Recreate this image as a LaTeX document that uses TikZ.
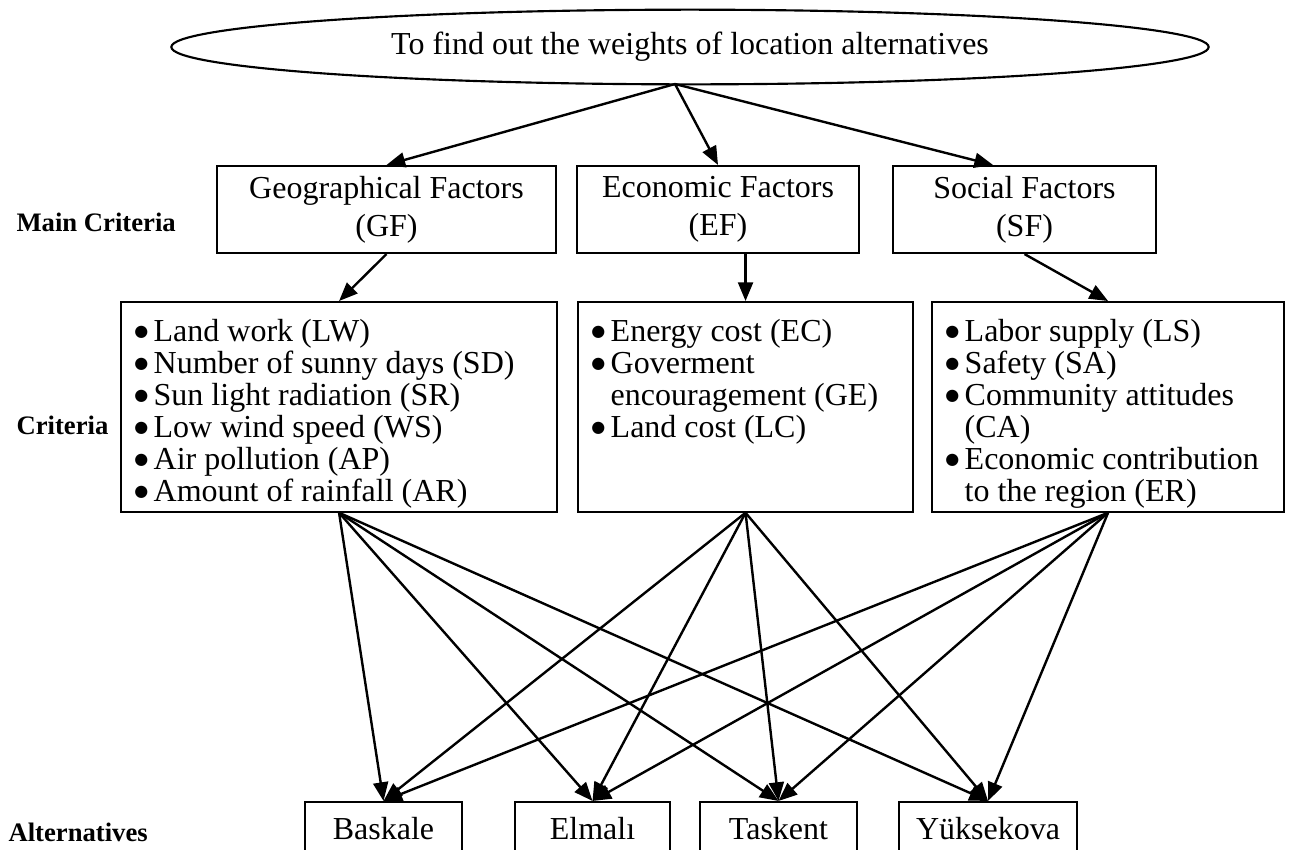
\documentclass[tikz,border=0pt]{standalone}
\usepackage{fontspec}
\setmainfont{Liberation Serif}
\newfontfamily\dejavu{DejaVu Sans}
\usepackage{tikz}
\usetikzlibrary{arrows.meta}
\usetikzlibrary{shapes.geometric}

\newcommand{\blt}{\raisebox{1.8pt}{\dejavu\fontsize{6}{6}\selectfont ●}}

\begin{document}
\begin{tikzpicture}[x=0.375pt,y=-0.375pt]
  % some styles
  \tikzset{
    goal/.style={
      ellipse,
      minimum width=389pt,
      minimum height=28pt,
      inner sep=0pt,
      line width=0.8pt,
      font=\fontsize{12}{14.25}\selectfont,
      draw
    }
  }
  \tikzset{
    factor/.style={
      rectangle,
      minimum height=32.6pt,
      inner sep=0pt,
      align=center,
      line width=0.8pt,
      font=\fontsize{12}{14.25}\selectfont,
      draw
    }
  }
  \tikzset{
    crit/.style={
      rectangle,
      anchor=north west,
      inner xsep=5pt,
      inner ysep=6.3pt,
      line width=0.8pt,
      font=\fontsize{12}{12}\selectfont,
      draw
    }
  }
  \tikzset{alt/.style={rectangle,minimum height=20.25pt,inner sep=0pt,line width=0.8pt,font=\fontsize{12}{14.25}\selectfont,draw}}
  \tikzset{lbl/.style={anchor=west,inner sep=0pt,font=\fontsize{10}{12}\selectfont\bfseries}}
  \tikzset{arr/.style={line width=0.9pt,-{Triangle[length=7pt,width=5.6pt]}}}

\useasboundingbox (0,0) rectangle (1296,849);

% goal
\node[goal] (goal) at (690,47) {To find out the weights of location alternatives};
\coordinate (src) at (675,84);

% main criteria
\node[lbl] (mainlbl) at (16,222) {Main Criteria};
\node[factor,minimum width=127.1pt] (gf) at (386.5,209.5) {Geographical Factors\\(GF)};
\node[factor,minimum width=105.75pt] (ef) at (718,209.5) {Economic Factors\\(EF)};
\node[factor,minimum width=98.6pt] (sf) at (1024.5,209.5) {Social Factors\\(SF)};

% criteria
\node[lbl] (critlbl) at (16,425) {Criteria};
\node[crit] (c1) at (120,301) {\parbox[t][66pt][t]{153.5pt}{%
  \begin{tabular}[t]{@{}l@{\hspace{2pt}}l@{}}
  \blt & Land work (LW)\\
  \blt & Number of sunny days (SD)\\
  \blt & Sun light radiation (SR)\\
  \blt & Low wind speed (WS)\\
  \blt & Air pollution (AP)\\
  \blt & Amount of rainfall (AR)
  \end{tabular}}};
\node[crit] (c2) at (577,301) {\parbox[t][66pt][t]{115.6pt}{%
  \begin{tabular}[t]{@{}l@{\hspace{2pt}}l@{}}
  \blt & Energy cost (EC)\\
  \blt & Goverment\\
       & encouragement (GE)\\
  \blt & Land cost (LC)
  \end{tabular}}};
\node[crit] (c3) at (931,301) {\parbox[t][66pt][t]{122pt}{%
  \begin{tabular}[t]{@{}l@{\hspace{2pt}}l@{}}
  \blt & Labor supply (LS)\\
  \blt & Safety (SA)\\
  \blt & Community attitudes\\
       & (CA)\\
  \blt & Economic contribution\\
       & to the region (ER)
  \end{tabular}}};

% alternatives
\node[lbl] (altlbl) at (8,832) {Alternatives};
\node[alt,minimum width=58.9pt] (bas) at (383.5,829) {Baskale};
\node[alt,minimum width=58.1pt] (elm) at (592.5,829) {Elmalı};
\node[alt,minimum width=58.9pt] (tas) at (778.5,829) {Taskent};
\node[alt,minimum width=66.75pt] (yuk) at (988,829) {Yüksekova};

% arrows
\draw[arr] (src) -- (gf.north);
\draw[arr] (src) -- (ef.north);
\draw[arr] (src) -- ([xshift=-11.8pt]sf.north);
\draw[arr] (gf.south) -- (c1.north);
\draw[arr] (c2.north |- ef.south) -- (c2.north);
\draw[arr] (sf.south) -- (c3.north);

\foreach \c in {c1,c2,c3}
    \foreach \a in {bas,elm,tas,yuk} {
            \draw[arr] (\c.south) -- (\a.north);
        }

\end{tikzpicture}
\end{document}
